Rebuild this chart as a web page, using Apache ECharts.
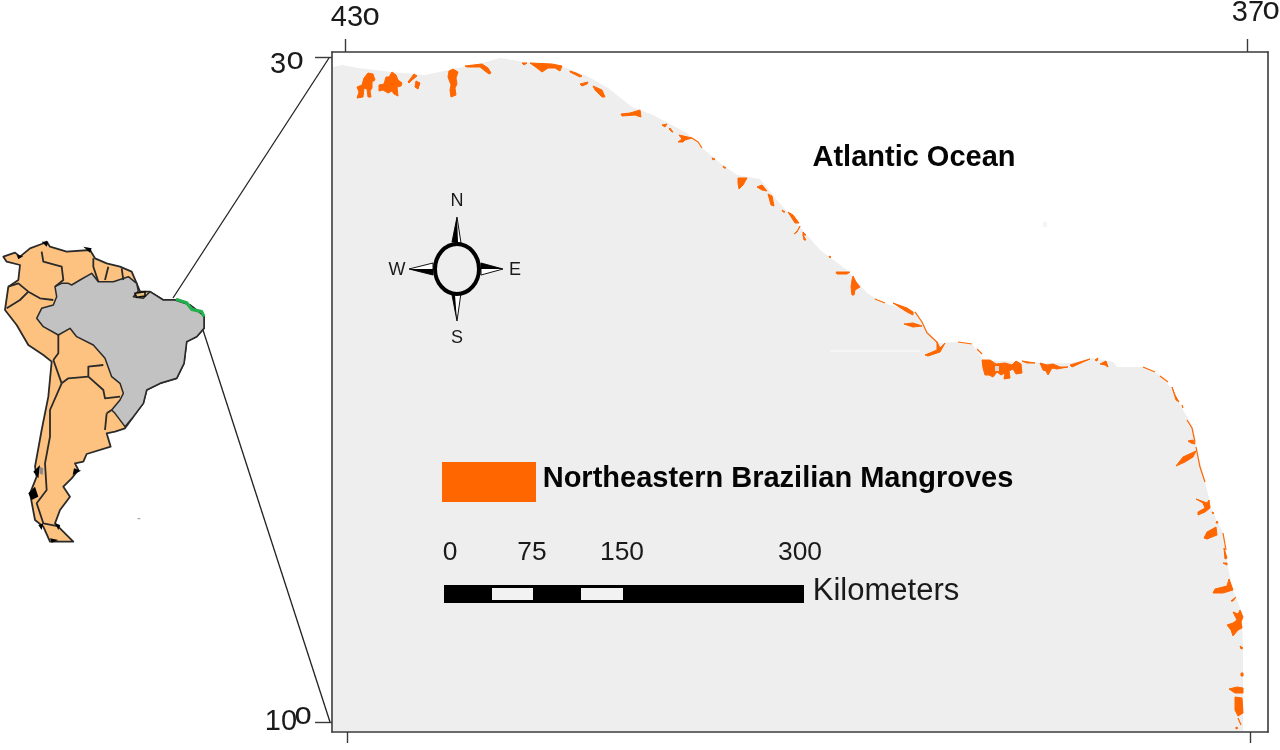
<!DOCTYPE html>
<html><head><meta charset="utf-8">
<style>html,body{margin:0;padding:0;background:#fff}#c{width:1280px;height:750px}</style>
<script src="https://cdn.jsdelivr.net/npm/echarts@6/dist/echarts.min.js"></script>
</head><body><div id="c"></div>
<script>
// ---- Main map, in map-sheet units
const landArea = [[[333,67],[342,65],[358,68],[392,72],[425,75],[458,68],[482,63],[500,58],[525,62],[558,65],[585,75],[608,88],[632,107],[653,115],[687,133],[702,148],[720,163],[737,175],[760,179],[777,200],[800,227],[820,250],[847,270],[867,293],[883,303],[917,312],[927,330],[938,343],[957,342],[973,345],[983,360],[1020,362],[1043,363],[1070,363],[1093,358],[1113,362],[1117,367],[1143,367],[1160,375],[1173,390],[1183,410],[1193,427],[1198,453],[1205,482],[1212,510],[1223,533],[1228,567],[1233,590],[1242,613],[1243,647],[1243,731],[333,731]]];
const mangrovePatches = [
[[368,73],[373,74],[375,80],[372,82],[372,88],[370,91],[371,97],[368,97],[367,89],[364,88],[363,97],[357,98],[359,92],[357,87],[362,85],[364,78]],
[[392,72],[396,75],[398,80],[402,83],[401,86],[397,87],[398,96],[394,94],[392,91],[388,93],[383,90],[379,91],[379,85],[384,84],[386,77],[389,77]],
[[414,74],[417,76],[412,80],[409,83],[408,82]],[[416,81],[420,83],[418,89],[415,87]],
[[453,69],[458,72],[456,78],[457,84],[455,88],[456,95],[451,97],[450,90],[451,85],[448,77],[449,71]],
[[465,66],[482,64],[488,68],[491,73],[489,74],[485,71],[480,67],[467,67]],
[[530,63],[552,64],[562,66],[560,71],[555,68],[548,68],[542,72],[537,68]],
[[522,63],[527,63],[524,65]],
[[570,71],[576,73],[582,76],[580,77],[570,72]],
[[580,84],[588,82],[587,84],[582,86]],
[[593,86],[602,90],[605,97],[602,97],[595,90]],
[[621,114],[630,113],[640,110],[641,117],[635,115],[622,116]],
[[662,125],[667,124],[665,127]],
[[670,128],[673,132],[672,132],[669,129]],
[[679,135],[692,138],[685,140],[683,142],[678,142],[682,139]],
[[712,158],[715,159],[713,160]],[[723,166],[726,168],[724,168]],
[[738,178],[747,178],[743,185],[739,189],[738,183]],
[[757,187],[762,185],[767,191],[762,190]],
[[768,194],[772,196],[774,206],[771,205]],
[[782,210],[785,212],[783,212]],
[[788,212],[793,215],[799,223],[795,223]],
[[800,226],[797,232],[794,234],[798,230]],
[[803,232],[806,235],[803,235]],[[803,235],[806,240],[804,240]],
[[829,256],[831,257],[830,258]],
[[836,272],[850,272],[847,274],[837,274]],
[[853,276],[856,282],[860,287],[855,290],[854,295],[852,295],[851,287],[852,280]],
[[893,303],[907,308],[913,312],[913,315],[907,312]],
[[904,324],[913,323],[922,326],[913,327]],
[[925,355],[937,350],[937,342],[940,348],[945,343],[940,352],[928,356]],
[[982,360],[990,360],[996,364],[1005,363],[1012,365],[1016,361],[1021,364],[1022,373],[1016,374],[1013,369],[1009,371],[1010,378],[1004,379],[1005,373],[1001,375],[997,372],[993,377],[989,375],[985,375],[983,368]],
[[1022,361],[1035,363],[1027,363]],
[[1040,363],[1047,365],[1053,364],[1060,367],[1068,367],[1057,369],[1052,368],[1048,375],[1046,371],[1043,370]],
[[1070,365],[1090,359],[1083,362],[1072,367]],
[[1095,360],[1098,358],[1097,361]],
[[1100,364],[1106,361],[1108,367],[1105,365]],
[[1172,387],[1175,395],[1179,402],[1176,400]],
[[1188,441],[1193,440],[1195,444],[1191,443]],
[[1196,451],[1193,457],[1185,462],[1176,466],[1183,457]],
[[1196,499],[1207,503],[1209,500],[1210,508],[1205,512],[1198,515],[1198,512],[1205,508],[1203,503]],
[[1212,512],[1214,513],[1213,514]],
[[1217,521],[1218,523],[1216,523]],
[[1216,527],[1217,535],[1207,539],[1204,538],[1207,532]],
[[1224,548],[1227,558],[1225,559]],
[[1223,563],[1227,563],[1227,565]],
[[1229,579],[1233,590],[1223,593],[1213,593],[1215,589],[1227,586]],
[[1231,601],[1236,597],[1233,601]],
[[1233,612],[1238,614],[1240,610],[1243,617],[1241,622],[1242,628],[1238,630],[1233,636],[1231,630],[1227,625],[1233,623],[1237,620]],
[[1240,646],[1243,648],[1241,649]],
[[1241,673],[1243,673],[1243,676],[1241,676]],
[[1229,689],[1237,687],[1243,688],[1243,693],[1235,693]],
[[1235,697],[1242,698],[1243,713],[1238,716],[1235,710]],
[[1236,727],[1238,728],[1236,729]]
];
const mangroveThreads = [
[[692,138],[698,142],[702,148]],
[[875,299],[885,303]],
[[915,312],[922,322],[927,333],[938,343]],
[[958,342],[972,344]],[[977,349],[982,354]],
[[1143,367],[1155,372]],[[1160,376],[1168,382]],[[1182,405],[1183,408]],
[[1187,420],[1192,428],[1195,442]],
[[1196,447],[1200,467],[1205,482]],
[[1223,533],[1226,550]],[[1238,718],[1241,725]]
];
const landHoles = [[[995,366],[999,366],[999,371],[995,371]]];
const faintStreak = [[[830,351],[920,351]]];
const faintSpot = [[[1043,222],[1047,222],[1047,227],[1043,227]]];

const legendSwatch = [[[442,462],[536,462],[536,502],[442,502]]];
const scaleBar = [[[444,585],[804,585],[804,603],[444,603]]];
const scaleGaps = [[[492,588],[533,588],[533,600],[492,600]],[[581,588],[623,588],[623,600],[581,600]]];
const leaderLines = [[[173,298],[329,58]],[[203,330],[330,722]]];

const compassRing = [[457,269,22,25]];
const compassWhite = [
[[457,217],[452,242],[461,243]],[[457,321],[452,295],[461,293]],
[[409,269],[433,263],[433,275]],[[503,269],[481,263],[481,275]]];
const compassBlack = [
[[457,217],[452,242],[458,242]],[[457,321],[452,295],[455,295]],
[[409,269],[433,269],[433,275]],[[503,269],[481,263],[481,269]]];

// label: x, y, text, size, weight
const mapLabels = [
[914,158,'Atlantic Ocean',29,'bold'],
[778,479,'Northeastern Brazilian Mangroves',29,'bold'],
[450,553,'0',26.4,'normal'],[532,553,'75',26.4,'normal'],[622,553,'150',26.4,'normal'],[800,553,'300',26.4,'normal'],
[886,591,'Kilometers',31,'normal'],
[457,201,'N',18,'normal'],[457,338,'S',18,'normal'],[397,270,'W',18,'normal'],[515,270,'E',18,'normal'],
[347,18,'43',29,'normal'],[371,16,'o',31,'normal'],
[1248,13,'37',29,'normal'],[1271,10,'o',31,'normal'],
[278,65,'3',29,'normal'],[295,60,'o',31,'normal'],
[281,722,'10',29,'normal'],[303,715,'o',31,'normal']
];

// degree ticks of the frame
const lonTicks = [43,37];
const latTicks = [3,10];

// ---- South America inset, in inset-sheet units
const continent = [[[10,80],[45,68],[60,80],[90,55],[125,42],[140,35],[150,50],[200,65],[270,60],[285,85],[320,100],[360,110],[395,125],[410,160],[420,185],[450,185],[490,210],[525,210],[570,225],[612,258],[612,295],[590,320],[560,335],[552,400],[530,445],[480,460],[440,480],[430,520],[400,560],[375,595],[345,605],[320,610],[332,650],[260,672],[250,695],[225,700],[235,720],[215,745],[190,770],[210,800],[180,840],[165,880],[195,910],[220,935],[150,935],[130,890],[105,870],[90,790],[110,740],[105,710],[125,600],[145,500],[155,395],[130,375],[85,345],[50,285],[15,240],[25,170],[55,150],[60,105],[20,95]]];
const brazil = [[[165,170],[185,160],[205,160],[215,165],[240,150],[275,130],[295,155],[340,155],[385,140],[410,160],[415,183],[400,200],[430,205],[450,185],[490,210],[525,210],[570,225],[612,258],[612,295],[590,320],[560,335],[552,400],[530,445],[480,460],[440,480],[430,520],[400,560],[375,590],[345,550],[335,540],[360,510],[370,490],[360,460],[335,440],[315,385],[280,345],[230,320],[210,295],[175,315],[130,290],[110,265],[125,235],[160,225],[170,200]]];
const frenchGuiana = [[[405,190],[435,185],[435,198],[410,202]]];
const borders = [
[[125,65],[130,95],[185,110],[190,150],[165,170]],
[[280,85],[280,110],[295,155]],[[325,110],[315,150]],[[365,115],[370,150]],
[[25,170],[55,160],[85,185],[120,205],[160,210]],
[[20,235],[60,210],[85,185]],
[[175,315],[175,370],[160,390]],[[160,390],[185,460]],
[[185,460],[205,445],[265,440]],
[[265,440],[265,410],[310,405]],[[265,440],[310,480],[315,505],[360,500]],
[[185,460],[150,540],[150,620],[135,700],[140,780],[110,820],[130,880],[180,890]],
[[320,550],[315,600]],[[320,550],[335,540]]
];
const darkCoast = [
[[85,790],[105,770],[115,800],[95,810]],[[100,725],[120,705],[115,745]],[[125,35],[145,35],[140,50]],
[[250,50],[275,55],[270,68]],[[115,885],[130,880],[125,900]],[[165,880],[180,885],[175,900]],
[[150,925],[175,930],[155,938]],[[222,715],[243,722],[218,735]],[[50,75],[70,78],[55,88]]
];
const greyIsland = [[[120,710],[130,715],[128,735],[118,730]]];
const greenCoast = [[[528,208],[560,218],[575,238],[605,245],[612,260]]];
const speck = [[[412,864],[422,864],[420,868],[413,868]]];

// ---- Rendering
function shapes(id, polys, gridIndex, style, kind, z){
  return {type:'custom',name:id,coordinateSystem:'cartesian2d',xAxisIndex:gridIndex===0?0:gridIndex===1?3:4,yAxisIndex:gridIndex===0?0:gridIndex===1?3:4,
    silent:true,clip:false,animation:false,z:z||3,encode:{x:0,y:1},
    data:polys.map((p,i)=>[p[0][0],p[0][1],i]),
    renderItem:(params,api)=>({type:kind||'polygon',
      shape:{points:polys[api.value(2)].map(pt=>api.coord(pt))},style:Object.assign({},style)})};
}
const ORANGE='#ff6600', LAND='#eeeeee';
const sheet=0, inset=2;
const series=[
 shapes('land',landArea,sheet,{fill:LAND},'polygon',2),
 shapes('streak',faintStreak,sheet,{fill:'none',stroke:'#f7f7f7',lineWidth:1.5},'polyline',2),
 shapes('spot',faintSpot,sheet,{fill:'#f4f4f4'},'polygon',2),
 shapes('Northeastern Brazilian Mangroves',mangrovePatches,sheet,{fill:ORANGE,stroke:ORANGE,lineWidth:1,lineJoin:'round'}),
 shapes('threads',mangroveThreads,sheet,{fill:'none',stroke:ORANGE,lineWidth:1.2}, 'polyline'),
 shapes('holes',landHoles,sheet,{fill:'#d8d8d8'},'polygon',4),
 shapes('swatch',legendSwatch,sheet,{fill:ORANGE}),
 shapes('scale',scaleBar,sheet,{fill:'#000'}),
 shapes('scaleGaps',scaleGaps,sheet,{fill:'#f2f2f2'},'polygon',4),
 shapes('leaders',leaderLines,sheet,{fill:'none',stroke:'#222',lineWidth:1.3},'polyline',5),
 shapes('compassW',compassWhite,sheet,{fill:'#fff',stroke:'#111',lineWidth:1},'polygon',4),
 shapes('compassB',compassBlack,sheet,{fill:'#000'},'polygon',4),
 {type:'custom',name:'compassRing',coordinateSystem:'cartesian2d',xAxisIndex:0,yAxisIndex:0,silent:true,clip:false,animation:false,z:5,
  data:compassRing,renderItem:(p,api)=>{
    const c=api.coord([api.value(0),api.value(1)]);
    const e=api.coord([api.value(0)+api.value(2),api.value(1)+api.value(3)]);
    return {type:'ellipse',shape:{cx:c[0],cy:c[1],rx:e[0]-c[0],ry:e[1]-c[1]},style:{fill:LAND,stroke:'#000',lineWidth:4}};
  }},
 {type:'custom',name:'labels',coordinateSystem:'cartesian2d',xAxisIndex:0,yAxisIndex:0,silent:true,clip:false,animation:false,z:6,
  data:mapLabels.map(l=>[l[0],l[1]]),renderItem:(p,api)=>{
    const l=mapLabels[p.dataIndex], c=api.coord([l[0],l[1]]);
    return {type:'text',style:{x:c[0],y:c[1],text:l[2],align:'center',verticalAlign:'middle',
      font:l[4]+' '+l[3]+'px "Liberation Sans", Arial, sans-serif',fill:l[4]==='bold'?'#050505':'#1a1a1a'}};
  }},
 shapes('continent',continent,inset,{fill:'#fdc27f',stroke:'#2a2a2a',lineWidth:1.8,lineJoin:'round'},'polygon',2),
 shapes('Brazil',brazil,inset,{fill:'#c2c2c2',stroke:'#2a2a2a',lineWidth:1.5,lineJoin:'round'},'polygon',3),
 shapes('frenchGuiana',frenchGuiana,inset,{fill:'#e8c27f',stroke:'#111',lineWidth:1.6},'polygon',4),
 shapes('borders',borders,inset,{fill:'none',stroke:'#2a2a2a',lineWidth:1.8,lineJoin:'round'},'polyline',4),
 shapes('darkCoast',darkCoast,inset,{fill:'#000'},'polygon',4),
 shapes('greyIsland',greyIsland,inset,{fill:'#8a8a8a'},'polygon',5),
 shapes('green',greenCoast,inset,{fill:'none',stroke:'#22b04e',lineWidth:3.2,lineJoin:'round'},'polyline',5),
 shapes('speck',speck,inset,{fill:'#aaaaaa'},'polygon',4)
];
const hidden=(extra)=>Object.assign({type:'value',show:false,scale:false,splitLine:{show:false}},extra);
const tickAxis=(extra,len,vals)=>Object.assign({type:'value',gridIndex:1,splitLine:{show:false},
  axisLine:{show:true,onZero:false,lineStyle:{color:'#3a3a3a',width:1.6}},
  axisTick:{show:true,length:len,customValues:vals,lineStyle:{color:'#3a3a3a',width:1.4}},axisLabel:{show:false}},extra);
const chart=echarts.init(document.getElementById('c'),null,{renderer:'canvas'});
chart.setOption({
 animation:false,backgroundColor:'#fff',
 grid:[{left:0,top:0,width:1280,height:750},{left:332,top:52,width:936,height:680},{left:0,top:230,width:220,height:320}],
 xAxis:[
  hidden({gridIndex:0,min:0,max:1280}),
  tickAxis({position:'top',inverse:true,min:36.86,max:43.086},13,lonTicks),
  tickAxis({position:'bottom',inverse:true,min:36.88,max:43.1},11,lonTicks),
  hidden({gridIndex:0,min:0,max:1280}),
  hidden({gridIndex:2,min:0,max:660})
 ],
 yAxis:[
  hidden({gridIndex:0,min:0,max:750,inverse:true}),
  tickAxis({position:'left',inverse:true,min:2.947,max:10.105},17,latTicks),
  tickAxis({position:'right',inverse:true,min:2.947,max:10.105},0,[]),
  hidden({gridIndex:0,min:0,max:750,inverse:true}),
  hidden({gridIndex:2,min:0,max:960,inverse:true})
 ],
 series
});
</script></body></html>
